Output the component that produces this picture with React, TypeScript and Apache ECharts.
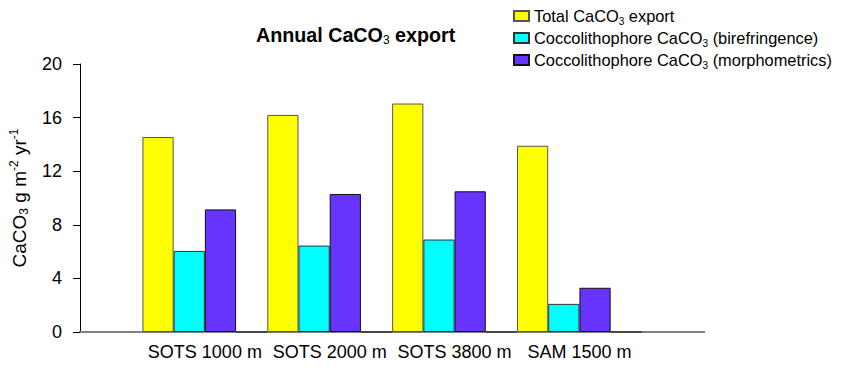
import React, { useEffect, useRef } from "react";
import * as echarts from "echarts";

const categories = ["SOTS 1000 m", "SOTS 2000 m", "SOTS 3800 m", "SAM 1500 m"];
const totalExport = [14.55, 16.2, 17.05, 13.9];
const coccoBirefringence = [6.05, 6.45, 6.9, 2.1];
const coccoMorphometrics = [9.15, 10.3, 10.5, 3.3];
const seriesNames = [
  "Total CaCO3 export",
  "Coccolithophore CaCO3 (birefringence)",
  "Coccolithophore CaCO3 (morphometrics)",
];
const yTicks = { min: 0, max: 20, interval: 4 };

const FONT = "Arial, 'Liberation Sans', sans-serif";

const pad = (arr: (number | string)[]) => ["-", ...arr, "-"];

export default function App() {
  const ref = useRef<HTMLDivElement>(null);
  useEffect(() => {
    if (!ref.current) return;
    const chart = echarts.init(ref.current, undefined, { renderer: "svg" });
    const barCommon = {
      type: "bar" as const,
      barGap: "0%",
      barCategoryGap: "0%",
    };
    chart.setOption({
      animation: false,
      backgroundColor: "#ffffff",
      title: {
        text: "Annual CaCO{sub|3} export",
        left: 256,
        top: 24,
        padding: 0,
        textStyle: {
          fontFamily: FONT,
          fontSize: 19.7,
          fontWeight: "bold",
          color: "#000",
          lineHeight: 22,
          rich: {
            sub: {
              fontFamily: FONT,
              fontSize: 12,
              fontWeight: "normal",
              color: "#000",
              lineHeight: 7,
              verticalAlign: "bottom",
            },
          },
        },
      },
      legend: {
        orient: "vertical",
        left: 513,
        top: 6,
        padding: 0,
        itemWidth: 15,
        itemHeight: 10,
        itemGap: 2,
        icon: "rect",
        data: seriesNames,
        formatter: (name: string) => name.replace("CaCO3", "CaCO{sub|3}"),
        textStyle: {
          fontFamily: FONT,
          fontSize: 16.4,
          color: "#000",
          lineHeight: 20,
          rich: {
            sub: {
              fontFamily: FONT,
              fontSize: 10,
              color: "#000",
              lineHeight: 5,
              verticalAlign: "bottom",
            },
          },
        },
      },
      grid: {
        left: 79.3,
        right: 841 - 704.3,
        top: 64,
        bottom: 372 - 332,
        containLabel: false,
      },
      xAxis: {
        type: "category",
        boundaryGap: false,
        data: ["", ...categories, ""],
        axisLine: { show: true, lineStyle: { color: "#808080", width: 2 } },
        axisTick: { show: false },
        axisLabel: {
          interval: 0,
          margin: 11,
          fontFamily: FONT,
          fontSize: 18,
          color: "#000",
        },
        splitLine: { show: false },
      },
      yAxis: {
        type: "value",
        min: yTicks.min,
        max: yTicks.max,
        interval: yTicks.interval,
        name: "CaCO{sub|3} g m{sup|-2} yr{sup|-1}",
        nameLocation: "middle",
        nameRotate: 90,
        nameGap: 50,
        nameTextStyle: {
          fontFamily: FONT,
          fontSize: 19,
          color: "#000",
          lineHeight: 22,
          rich: {
            sub: {
              fontFamily: FONT,
              fontSize: 12,
              color: "#000",
              lineHeight: 7,
              verticalAlign: "bottom",
            },
            sup: {
              fontFamily: FONT,
              fontSize: 12,
              color: "#000",
              lineHeight: 8,
              verticalAlign: "top",
            },
          },
        },
        axisLine: { show: true, lineStyle: { color: "#000", width: 1 } },
        axisTick: { show: true, inside: false, length: 7, lineStyle: { color: "#000" } },
        axisLabel: {
          margin: 18,
          fontFamily: FONT,
          fontSize: 18,
          color: "#000",
        },
        splitLine: { show: false },
      },
      series: [
        {
          ...barCommon,
          name: seriesNames[0],
          data: pad(totalExport),
          itemStyle: { color: "#FFFF00", borderColor: "#555", borderWidth: 1 },
        },
        {
          ...barCommon,
          name: seriesNames[1],
          data: pad(coccoBirefringence),
          itemStyle: { color: "#00FFFF", borderColor: "#333", borderWidth: 1 },
        },
        {
          ...barCommon,
          name: seriesNames[2],
          data: pad(coccoMorphometrics),
          itemStyle: { color: "#6633FF", borderColor: "#111", borderWidth: 1 },
        },
        {
          ...barCommon,
          name: "spacer",
          data: pad([0, 0, 0, 0]),
          itemStyle: { color: "#FFFFFF", borderColor: "#333", borderWidth: 1 },
        },
      ],
    });
    return () => chart.dispose();
  }, []);
  return (
    <div
      ref={ref}
      style={{ position: "fixed", left: 0, top: 0, width: 841, height: 372 }}
    />
  );
}
